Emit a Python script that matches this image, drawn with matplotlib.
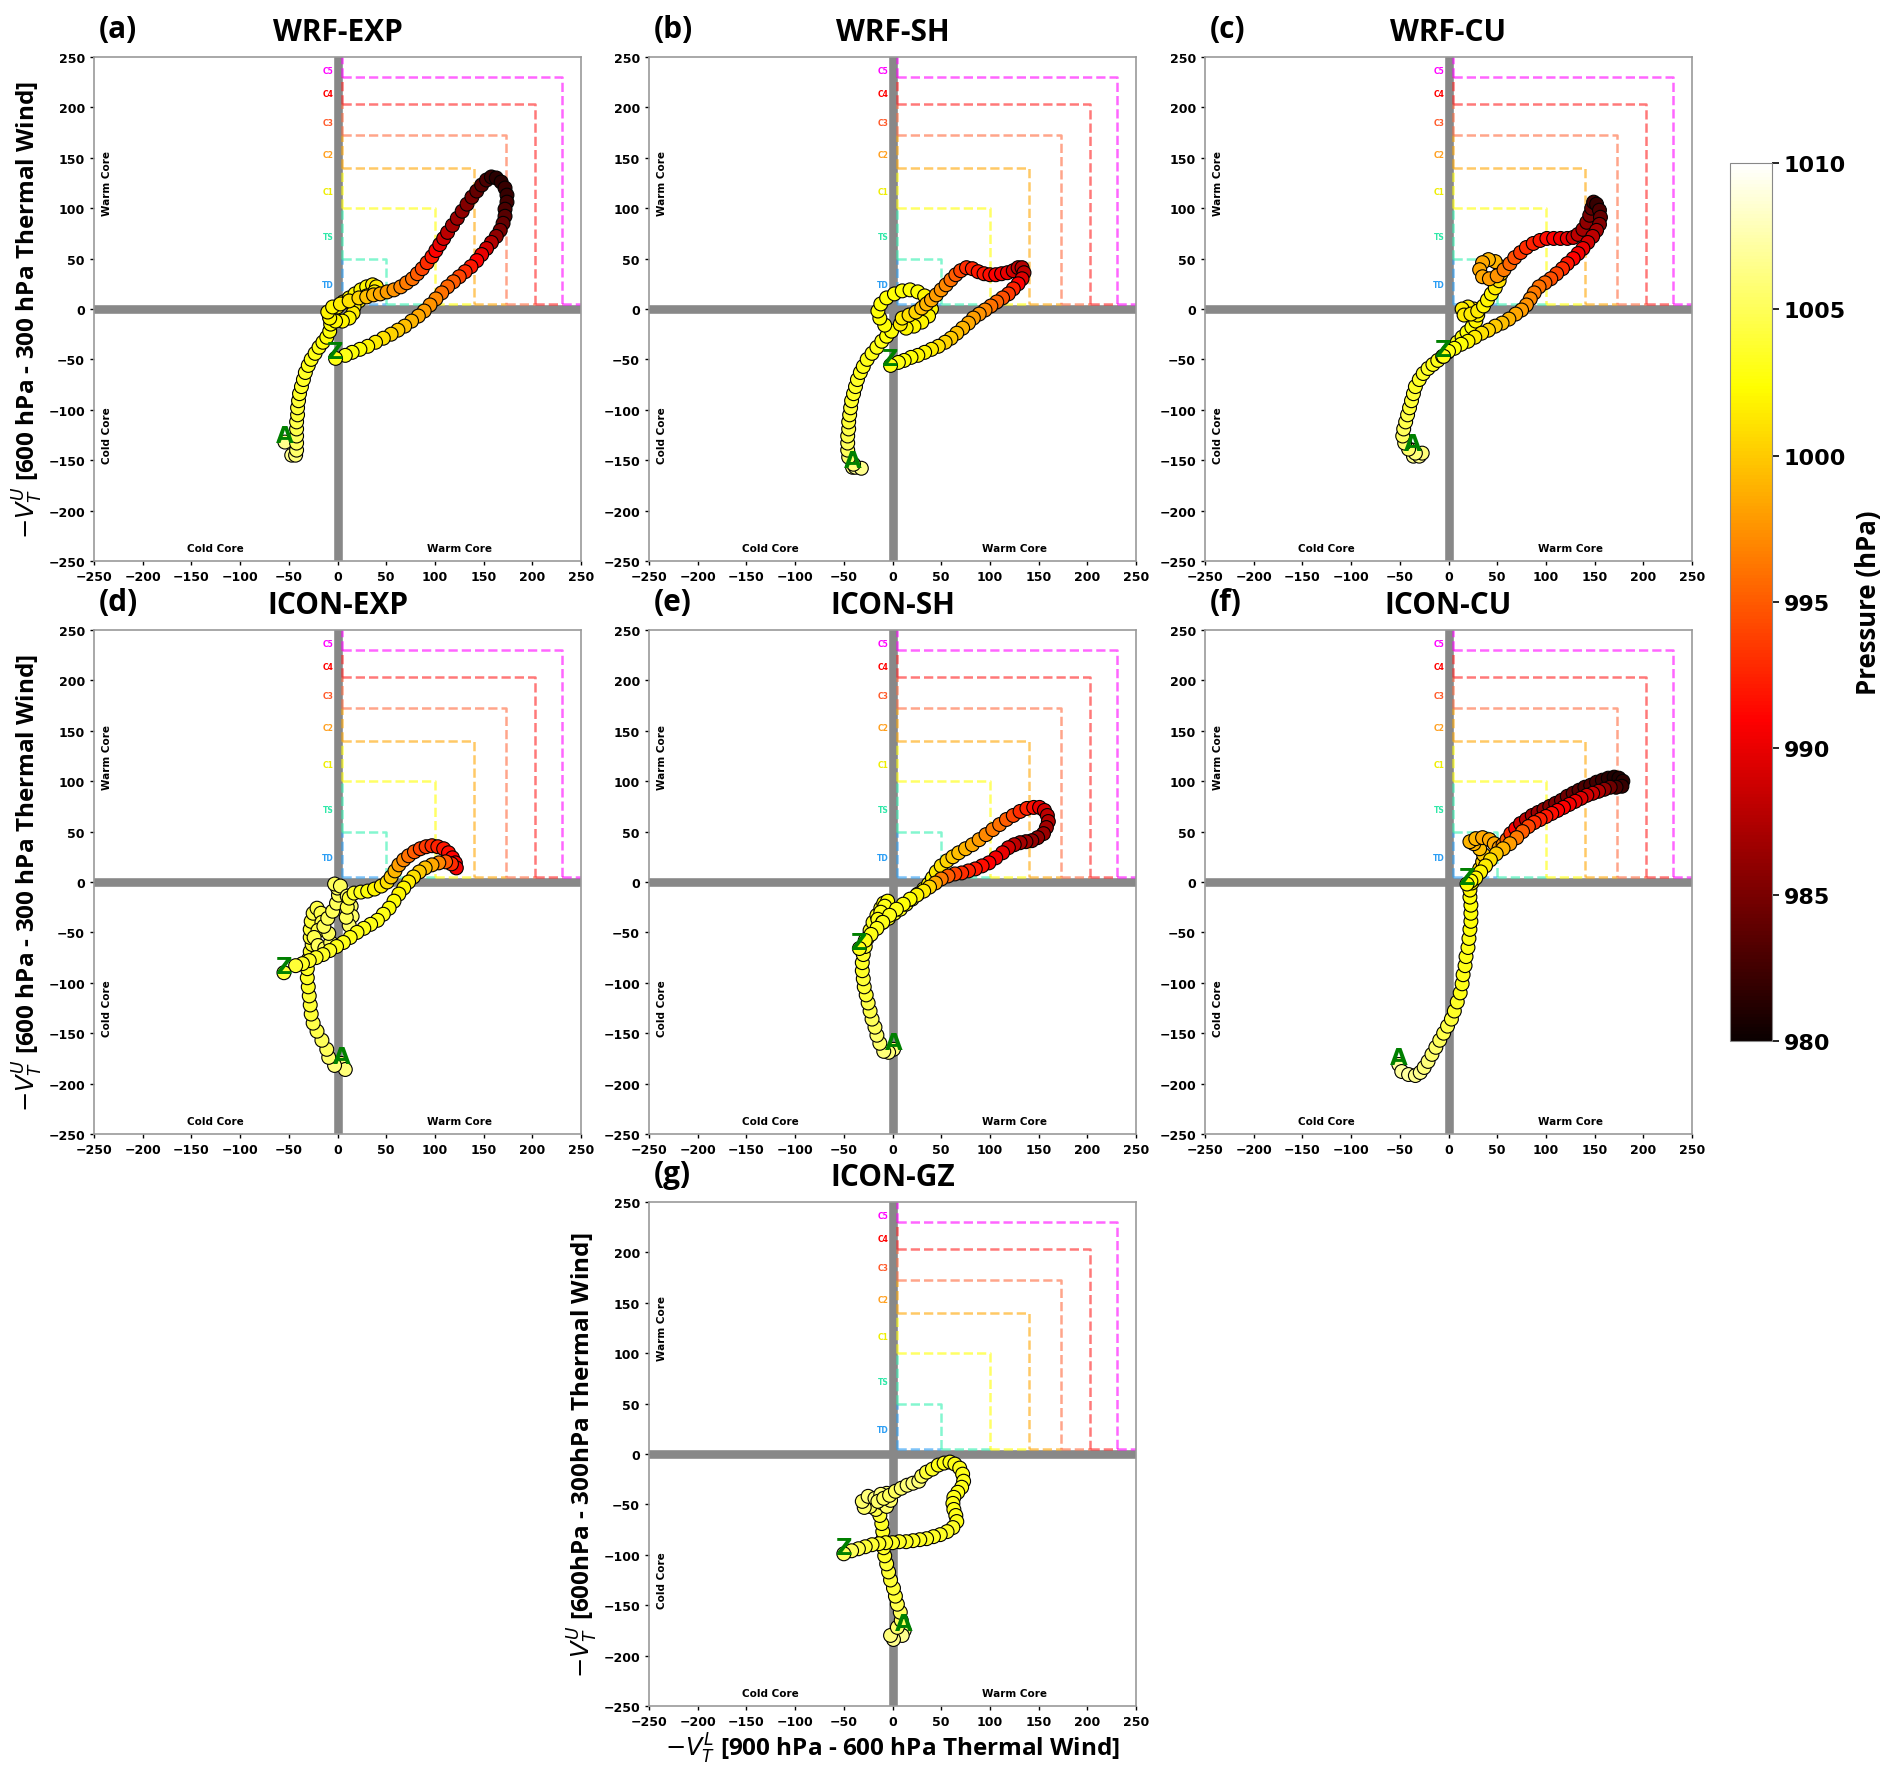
import matplotlib
matplotlib.use('Agg')
import matplotlib.pyplot as plt
import numpy as np
from matplotlib.colors import Normalize
from matplotlib.cm import ScalarMappable
from matplotlib import font_manager as fm

plt.rcParams['font.family'] = ['DejaVu Sans']
plt.rcParams['mathtext.fontset'] = 'dejavusans'

# ---------------- data ----------------
# (a) WRF-EXP
wrf_exp_x = [-54,-47,-43,-42,-42,-42,-42,-42,-41,-41,-40,-39,-37,-35,-33,-30,-27,-23,-19,-15,-11,-8,-7,-8,-5,0,6,12,18,24,30,36,40,38,30,22,17,16,12,5,-2,-8,-10,-5,3,12,22,30,37,44,51,58,65,71,77,82,87,92,97,101,105,109,113,118,123,128,133,138,143,148,153,158,163,168,172,174,174,172,172,170,167,163,158,153,148,143,137,131,125,119,113,107,101,95,89,83,76,69,62,55,47,39,31,23,15,8,-2]
wrf_exp_y = [-132,-145,-145,-140,-133,-126,-119,-112,-105,-98,-91,-84,-77,-70,-63,-56,-50,-44,-38,-33,-28,-22,-15,-8,-3,2,7,11,15,19,22,24,22,17,13,8,2,-4,-9,-12,-12,-9,-3,2,5,8,11,12,14,15,17,19,22,26,30,35,40,46,52,58,64,70,76,83,90,97,104,111,117,123,128,131,130,126,120,113,106,99,92,85,78,72,66,60,54,48,42,37,32,27,22,16,10,4,-2,-7,-12,-17,-21,-25,-29,-33,-37,-40,-43,-46,-49]
wrf_exp_p = [1006.5,1006.5,1006,1005.5,1005,1005,1004.5,1004.5,1004,1004,1004,1003.5,1003.5,1003.5,1003.5,1003,1003,1003,1003,1002.5,1002.5,1002.5,1002.5,1002,1002,1002,1002,1002,1002,1002,1002,1001.5,1001.5,1001.5,1001.5,1001.5,1001.5,1001.5,1002,1002,1002,1002,1002,1002,1001.5,1001,1000.5,999.5,999,998.5,998,997.5,997,996.5,996,995,994,993,992,991,990,989,988,987,986.5,986,985.5,985,984,983.5,983,982,981.5,981.5,982,982,982.5,983,983.5,984,985,986,987.5,989,990,991,992,993,994,995,995.5,996,997,997.5,998,998.5,999,999.5,1000,1000.5,1001,1001.5,1002,1002.5,1002.5,1003,1003]

# (b) WRF-SH
wrf_sh_x = [-41,-38,-32,-40,-45,-46,-46,-46,-45,-45,-44,-43,-42,-40,-38,-36,-33,-30,-26,-21,-16,-11,-6,-1,-8,-13,-15,-12,-6,2,10,18,26,33,38,40,37,30,22,14,8,10,17,24,30,35,40,45,50,55,60,65,70,76,82,88,94,100,106,112,118,124,129,133,135,133,129,124,119,113,107,101,95,89,83,78,72,66,60,54,47,40,33,26,19,12,6,-2]
wrf_sh_y = [-157,-157,-158,-154,-147,-140,-133,-126,-119,-112,-105,-98,-91,-84,-77,-70,-63,-57,-50,-44,-38,-32,-27,-22,-16,-9,-2,5,11,15,18,19,17,13,7,0,-7,-13,-17,-19,-15,-9,-6,-3,1,5,9,14,19,24,29,34,38,41,40,37,35,34,34,35,36,38,41,41,36,30,25,20,15,11,7,3,-1,-5,-9,-14,-19,-24,-29,-33,-37,-40,-43,-46,-48,-51,-53,-56]
wrf_sh_p = [1006,1006.5,1006.5,1006,1005.5,1005,1005,1004.5,1004.5,1004,1004,1004,1003.5,1003.5,1003.5,1003.5,1003,1003,1003,1003,1003,1003,1002.5,1002.5,1002.5,1002.5,1002.5,1002.5,1002.5,1002.5,1002.5,1002.5,1002.5,1002,1002,1002,1002,1002,1002,1002,1001.5,1001.5,1001,1000.5,999.5,999,998.5,998,997.5,997,996,995,994,993,992.5,992,992,991.5,991,990.5,990,989,988,987.5,988,989.5,991,992.5,993.5,994.5,995.5,996,997,997.5,998,998.5,999,999.5,1000,1000.5,1001,1001.5,1002,1002,1002.5,1002.5,1003,1003]

# (c) WRF-CU
wrf_cu_x = [-37,-36,-30,-27,-34,-41,-45,-47,-46,-44,-42,-40,-38,-36,-34,-30,-26,-21,-16,-11,-6,-1,4,9,14,19,24,28,30,26,20,14,16,23,30,36,40,44,48,52,54,53,48,41,35,32,35,42,50,57,63,68,74,80,87,94,101,108,115,122,128,133,138,142,145,147,149,152,155,156,155,152,148,143,138,133,128,122,117,111,105,99,93,88,84,80,75,69,62,55,48,41,34,27,20,13,6,0,-5]
wrf_cu_y = [-140,-146,-146,-143,-143,-139,-133,-126,-119,-112,-105,-98,-91,-84,-77,-70,-64,-59,-55,-51,-47,-43,-38,-33,-28,-23,-18,-12,-6,0,2,0,-6,-5,-2,3,9,15,21,28,35,42,47,49,46,39,32,30,33,39,45,51,56,61,65,68,70,70,70,70,71,74,79,86,93,100,106,104,98,91,84,78,72,66,60,55,50,45,40,35,30,26,22,16,10,4,-1,-5,-10,-14,-17,-21,-24,-28,-32,-35,-39,-42,-47]
wrf_cu_p = [1006.5,1006.5,1006.5,1006,1006,1005.5,1005.5,1005,1005,1004.5,1004.5,1004,1004,1004,1003.5,1003.5,1003.5,1003.5,1003,1003,1003,1003,1003,1003,1002.5,1002.5,1002.5,1002,1002,1001.5,1001.5,1001.5,1001.5,1001.5,1001.5,1002,1002,1002,1001.5,1001,1000,999.5,999,999,998.5,998.5,998.5,998,997.5,996.5,995.5,994.5,993.5,993,992.5,992,991.5,991,990.5,990,989,988,987,986,985,984,982.5,982,983,984,985.5,987,988,989,990,990.5,991,992,993,994,994.5,995.5,996,996.5,997,997.5,998,998.5,999,999.5,1000,1000.5,1001,1001.5,1002,1002.5,1002.5,1003,1003]

# (d) ICON-EXP
icon_exp_x = [4,8,-3,-9,-11,-16,-21,-25,-27,-28,-29,-30,-31,-31,-30,-28,-26,-28,-28,-27,-25,-21,-17,-16,-20,-24,-20,-13,-7,-9,-14,-10,-5,-1,1,0,-3,3,10,14,15,12,9,10,12,17,24,31,38,45,51,55,59,63,68,73,79,85,91,97,103,109,114,118,121,122,117,111,104,97,90,84,78,73,68,63,58,53,47,41,34,27,20,13,6,-1,-8,-15,-22,-29,-36,-43,-55]
icon_exp_y = [-180,-186,-182,-174,-166,-157,-148,-140,-131,-122,-113,-104,-95,-86,-77,-69,-62,-55,-47,-39,-31,-26,-31,-40,-48,-55,-63,-66,-60,-51,-44,-36,-29,-21,-13,-6,-2,-4,-14,-24,-34,-43,-35,-25,-16,-11,-10,-9,-7,-4,0,5,11,17,22,26,30,33,35,36,35,33,29,24,19,14,18,20,19,17,14,10,5,0,-6,-12,-19,-26,-32,-38,-42,-46,-50,-55,-60,-64,-68,-72,-75,-78,-81,-83,-90]
icon_exp_p = [1006,1006,1006,1005.5,1005,1005,1004.5,1004.5,1004,1004,1004,1003.5,1003.5,1003.5,1003.5,1003.5,1004,1004,1004,1004,1004.5,1004.5,1004.5,1004.5,1004.5,1004.5,1005,1005,1005,1005,1005,1005,1005,1005,1005,1005,1005,1005,1005.5,1005.5,1005.5,1005.5,1005,1004.5,1004,1003.5,1003,1002.5,1002,1001.5,1001,1000,999,998,997,996,995,994,993.5,993,992.5,992,991.5,991,991,990.5,993,995,997,998.5,999.5,1000,1001,1001.5,1002,1002,1002.5,1002.5,1003,1003,1003,1003,1003,1003,1003,1003,1003.5,1003.5,1003.5,1003.5,1003.5,1004,1004]

# (e) ICON-SH
icon_sh_x = [1,-4,-9,-13,-16,-18,-21,-23,-25,-27,-29,-30,-31,-31,-30,-28,-26,-23,-20,-16,-12,-9,-5,-8,-12,-15,-10,-4,2,8,14,20,26,32,37,41,45,50,56,62,68,75,82,89,96,103,110,117,124,131,138,145,151,156,159,160,158,155,149,143,137,131,125,119,113,106,99,92,85,78,71,64,57,50,44,38,32,25,18,11,4,-3,-10,-16,-22,-28,-34]
icon_sh_y = [-166,-169,-168,-160,-152,-144,-136,-128,-120,-112,-104,-96,-88,-80,-72,-64,-56,-48,-40,-33,-26,-21,-19,-24,-30,-37,-40,-36,-31,-27,-22,-17,-12,-7,-2,4,10,16,21,25,29,33,37,42,47,52,57,62,66,70,73,74,74,71,66,60,54,48,44,41,40,39,37,34,29,24,19,16,13,11,9,8,6,3,-1,-5,-9,-13,-17,-22,-27,-33,-40,-46,-52,-58,-66]
icon_sh_p = [1006,1006,1006,1005.5,1005.5,1005,1005,1004.5,1004.5,1004,1004,1004,1003.5,1003.5,1003.5,1003.5,1003.5,1003.5,1003.5,1003,1003,1002.5,1002.5,1003,1003,1003,1003,1003,1003,1003,1003,1002.5,1002.5,1002.5,1002,1002,1001.5,1001,1000.5,1000,999.5,999,998.5,998,997,996.5,996,995,994,993,992.5,991.5,990,989,988,987.5,987,986.5,986,986,986.5,987,988,989,990,990.5,991,991.5,992,992.5,993,994,995,996.5,998.5,1000.5,1001.5,1002,1002.5,1002.5,1003,1003,1003,1003,1003,1003,1003]

# (f) ICON-CU
icon_cu_x = [-51,-48,-41,-34,-29,-25,-21,-17,-13,-9,-5,-1,3,6,9,12,14,15,17,18,20,21,22,23,23,23,22,22,24,28,32,35,36,32,26,22,28,35,42,47,52,56,60,64,69,74,80,86,92,98,104,110,116,122,128,134,140,146,152,158,164,170,175,179,178,172,166,160,154,148,142,136,130,124,118,112,106,100,94,88,82,76,70,63,56,49,43,38,33,28,23,19]
icon_cu_y = [-181,-188,-191,-192,-189,-184,-178,-171,-164,-157,-150,-143,-136,-128,-119,-110,-101,-92,-83,-74,-65,-56,-47,-39,-31,-23,-15,-8,-1,6,13,20,27,33,38,40,43,44,42,38,34,37,42,48,53,58,62,66,69,72,75,78,81,85,88,91,94,96,99,101,103,104,103,100,95,94,94,92,90,88,86,83,80,77,74,71,68,65,62,59,55,50,44,38,33,28,22,16,10,4,1,-2]
icon_cu_p = [1007,1007,1007,1006.5,1006.5,1006,1006,1005.5,1005.5,1005,1004.5,1004.5,1004,1003.5,1003.5,1003,1003,1003,1003,1003,1003,1003,1002.5,1002.5,1002.5,1002.5,1002.5,1002,1002,1001.5,1001,1000.5,1000,999.5,999,999,999,998.5,998.5,998.5,998,997,995,993,991,989,988,987,986.5,986,985.5,985,985,984.5,984,983.5,983,983,982.5,982,981.5,981,981,981.5,982,983,984.5,986,987.5,988.5,989,989.5,990,990.5,991,991,991.5,992,992.5,993,994,995,996.5,998,999,1000,1001,1001.5,1002,1002,1002.5,1002.5]

# (g) ICON-GZ
icon_gz_x = [12,10,1,-2,5,9,8,5,3,1,-2,-4,-6,-8,-9,-10,-10,-11,-13,-17,-23,-29,-31,-25,-18,-12,-6,-2,-6,-12,-15,-9,-3,3,9,15,21,27,30,35,41,47,53,59,64,69,72,73,71,67,63,62,63,65,66,62,56,49,42,35,28,21,14,7,0,-7,-14,-21,-28,-35,-42,-50]
icon_gz_y = [-175,-180,-184,-180,-172,-165,-157,-149,-141,-133,-125,-117,-109,-101,-93,-85,-77,-69,-61,-55,-52,-53,-47,-42,-44,-48,-52,-46,-39,-40,-47,-44,-41,-37,-34,-31,-29,-27,-22,-18,-15,-11,-9,-8,-10,-14,-20,-27,-33,-38,-43,-49,-55,-61,-67,-73,-77,-80,-82,-84,-85,-86,-87,-87,-88,-88,-89,-90,-92,-94,-96,-99]
icon_gz_p = [1006,1006.5,1006.5,1006,1005.5,1005,1005,1004.5,1004,1004,1004,1004,1004,1003.5,1003.5,1003.5,1003.5,1003.5,1004,1004.5,1005,1005.5,1005.5,1006,1006,1006,1005.5,1005.5,1006,1006,1005.5,1005,1005,1005,1005.5,1006,1006,1006,1005,1004,1003.5,1003,1003,1003,1003,1003,1003,1003,1003,1003,1003,1003,1003,1003,1003,1003.5,1003.5,1003.5,1003.5,1003.5,1003.5,1003.5,1003.5,1003.5,1003.5,1003.5,1003.5,1004,1004,1004.5,1005,1005]

panel_letters = ['(a)', '(b)', '(c)', '(d)', '(e)', '(f)', '(g)']
panel_titles = ['WRF-EXP', 'WRF-SH', 'WRF-CU', 'ICON-EXP', 'ICON-SH', 'ICON-CU', 'ICON-GZ']
panel_data = [
    (wrf_exp_x, wrf_exp_y, wrf_exp_p),
    (wrf_sh_x, wrf_sh_y, wrf_sh_p),
    (wrf_cu_x, wrf_cu_y, wrf_cu_p),
    (icon_exp_x, icon_exp_y, icon_exp_p),
    (icon_sh_x, icon_sh_y, icon_sh_p),
    (icon_cu_x, icon_cu_y, icon_cu_p),
    (icon_gz_x, icon_gz_y, icon_gz_p),
]

# intensity categories and their thermal-wind thresholds
cat_names = ['TD', 'TS', 'C1', 'C2', 'C3', 'C4', 'C5']
cat_thresholds = [5, 50, 100, 140, 173, 203, 230, 250]
cat_line_colors = ['#2a9df4', '#33f0b0', '#ffff00', '#ffa500', '#ff6a3d', '#ff2020', '#ff00ff']
cat_text_colors = ['#2a9df4', '#2ee8a8', '#eeee00', '#ffa020', '#ff5a2a', '#ff0000', '#ff00ff']

ticks = np.arange(-250, 251, 50)
pmin, pmax = 980, 1010
cbar_ticks = [980, 985, 990, 995, 1000, 1005, 1010]

# pick an installed sans family that really has a bold face
def bold_family():
    for name in ['Noto Sans', 'Open Sans', 'Roboto', 'Lato', 'Liberation Sans']:
        for f in fm.fontManager.ttflist:
            w = f.weight if isinstance(f.weight, int) else fm.weight_dict.get(f.weight, 400)
            if f.name == name and w >= 600 and f.style == 'normal':
                return name
    return 'DejaVu Sans'

BFAM = bold_family()

# ---------------- figure ----------------
W, H = 1892, 1774
fig = plt.figure(figsize=(W / 100, H / 100), dpi=100)

col_left = [94, 649, 1205]
row_top = [58, 631, 1203]
ax_w, ax_h = 487, 504

def ax_rect(left, top):
    return [left / W, 1 - (top + ax_h) / H, ax_w / W, ax_h / H]

layout = [(0, 0), (0, 1), (0, 2), (1, 0), (1, 1), (1, 2), (2, 1)]
norm = Normalize(vmin=pmin, vmax=pmax)
cmap = plt.get_cmap('hot')

title_font = dict(family=BFAM, weight='bold', size=21.5)
label_font = dict(family=BFAM, weight='bold', size=17.5)

for i, (r, c) in enumerate(layout):
    ax = fig.add_axes(ax_rect(col_left[c], row_top[r]))
    xs, ys, ps = panel_data[i]
    ax.set_xlim(-250, 250)
    ax.set_ylim(-250, 250)
    # thick grey cross
    ax.axvline(0, color='#888888', lw=6.2, zorder=1)
    ax.axhline(0, color='#888888', lw=6.2, zorder=1)
    # category boxes
    t = cat_thresholds
    for k in range(len(cat_names)):
        col = cat_line_colors[k]
        kw = dict(color=col, lw=1.8, ls='--', alpha=0.6, zorder=2)
        ax.plot([5, 5], [t[k], t[k + 1]], **kw)
        ax.plot([t[k], t[k + 1]], [5, 5], **kw)
        if k >= 1:
            ax.plot([5, t[k], t[k]], [t[k], t[k], 5], **kw)
        ax.text(-4, (t[k] + t[k + 1]) / 2 - 3, cat_names[k], color=cat_text_colors[k],
                fontsize=5.5, fontweight='bold', ha='right', va='center', zorder=4)
    # quadrant labels
    qkw = dict(fontsize=7.5, fontweight='bold', ha='center', va='center', zorder=4)
    ax.text(-237, 125, 'Warm Core', rotation=90, **qkw)
    ax.text(-237, -125, 'Cold Core', rotation=90, **qkw)
    ax.text(-125, -237, 'Cold Core', **qkw)
    ax.text(125, -237, 'Warm Core', **qkw)
    # track
    ax.scatter(xs, ys, c=ps, cmap=cmap, norm=norm, s=100, edgecolors='black',
               linewidths=0.8, zorder=3)
    ax.text(xs[0], ys[0], 'A', color='green', fontsize=16.5, fontweight='bold',
            ha='center', va='baseline', zorder=5)
    ax.text(xs[-1], ys[-1], 'Z', color='green', fontsize=16.5, fontweight='bold',
            ha='center', va='baseline', zorder=5)
    # axes styling
    ax.set_xticks(ticks)
    ax.set_yticks(ticks)
    ax.tick_params(labelsize=9, length=3, width=1, color='black')
    for lab in ax.get_xticklabels() + ax.get_yticklabels():
        lab.set_fontweight('bold')
    for sp in ax.spines.values():
        sp.set_color('#999999')
        sp.set_linewidth(1.2)
    ax.set_title(panel_titles[i], pad=12, **title_font)
    ax.text(0.01, 1.025, panel_letters[i], transform=ax.transAxes, ha='left', va='bottom',
            **title_font)
    if c == 0:
        ax.set_ylabel(r'$-V_T^U$ [600 hPa - 300 hPa Thermal Wind]', labelpad=2, **label_font)
    if i == 6:
        ax.set_ylabel(r'$-V_T^U$ [600hPa - 300hPa Thermal Wind]', labelpad=2, **label_font)
        ax.set_xlabel(r'$-V_T^L$ [900 hPa - 600 hPa Thermal Wind]', labelpad=2, **label_font)

# colorbar
cax = fig.add_axes([1730 / W, 1 - 1042 / H, 42 / W, (1042 - 164) / H])
sm = ScalarMappable(norm=norm, cmap=cmap)
cb = fig.colorbar(sm, cax=cax, ticks=cbar_ticks)
cb.ax.tick_params(labelsize=16, length=5, width=1.2)
for lab in cb.ax.get_yticklabels():
    lab.set_fontweight('bold')
cb.outline.set_edgecolor('#888888')
cb.set_label('Pressure (hPa)', labelpad=6, family=BFAM, weight='bold', size=18.5)

fig.savefig('out.png', dpi=100)
